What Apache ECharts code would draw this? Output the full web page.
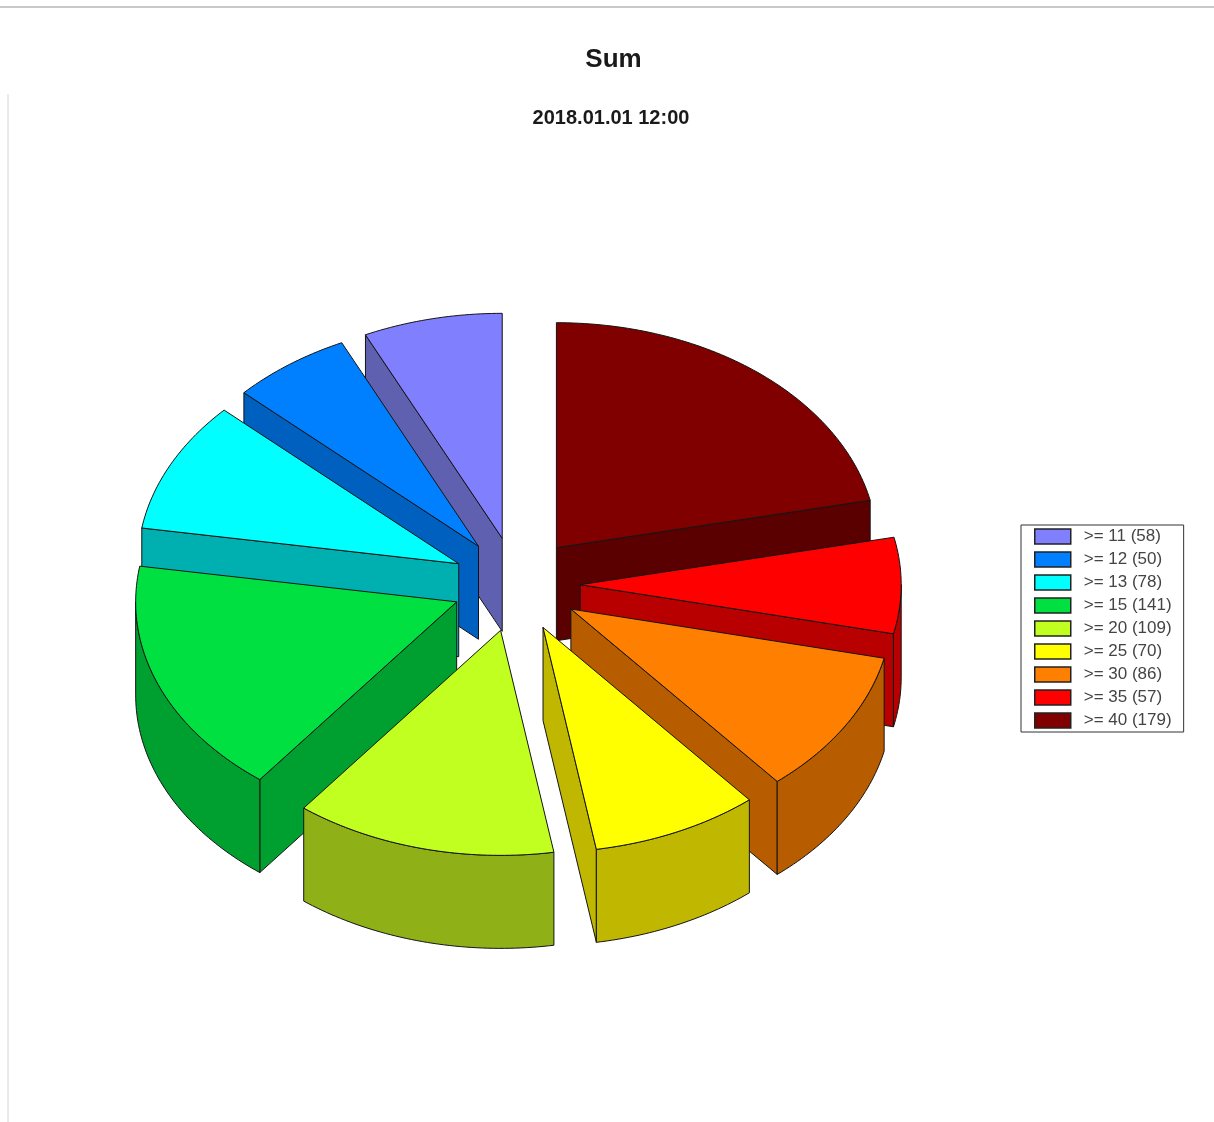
<!DOCTYPE html>
<html>
<head>
<meta charset="utf-8">
<style>html,body{margin:0;padding:0;background:#fff}#c{width:1214px;height:1122px}</style>
<script src="https://cdn.jsdelivr.net/npm/echarts@6/dist/echarts.min.js"></script>
</head>
<body>
<div id="c"></div>
<script>
const categories = ['>= 11', '>= 12', '>= 13', '>= 15', '>= 20', '>= 25', '>= 30', '>= 35', '>= 40'];
const values = [58, 50, 78, 141, 109, 70, 86, 57, 179];
const topColors = ['#8080ff', '#0080ff', '#00ffff', '#00e040', '#c0ff20', '#ffff00', '#ff8000', '#ff0000', '#800000'];
const wallColors = ['#6060b0', '#0060c0', '#00b0b0', '#00a030', '#90b018', '#c0b800', '#b85c00', '#b80000', '#5a0000'];

const CX = 516.2, CY = 584.5, RX = 321, RY = 225, DEPTH = 93, EX = 64, EY = 47.3;
const total = values.reduce((a, b) => a + b, 0);
const rad = d => d * Math.PI / 180;

// The pie runs counter-clockwise from the top in legend order, so the last class starts at 12 o'clock.
const sliceAngles = [];
let cursor = 0;
for (let i = values.length - 1; i >= 0; i--) {
  const sweep = values[i] / total * 360;
  sliceAngles[i] = [cursor, cursor + sweep];
  cursor += sweep;
}

function makeRender(i) {
  return function (params, api) {
    const a0 = sliceAngles[i][0];
    const a1 = a0 + api.value(0) / total * 360;
    const mid = rad((a0 + a1) / 2);
    const ax = CX + EX * Math.sin(mid), ay = CY - EY * Math.cos(mid);
    const pt = (a, dz) => [ax + RX * Math.sin(rad(a)), ay - RY * Math.cos(rad(a)) + (dz || 0)];
    const arc = (s, e, dz) => {
      const out = [], n = Math.max(1, Math.ceil((e - s)));
      for (let k = 0; k <= n; k++) out.push(pt(s + (e - s) * k / n, dz));
      return out;
    };
    const stroke = { stroke: '#141414', lineWidth: 1, lineJoin: 'round' };
    const wall = pts => ({ type: 'polygon', shape: { points: pts }, style: Object.assign({ fill: wallColors[i] }, stroke) });
    const children = [];
    if (Math.sin(rad(a0)) < -1e-6) {
      children.push(wall([[ax, ay], pt(a0), pt(a0, DEPTH), [ax, ay + DEPTH]]));
    }
    if (Math.sin(rad(a1)) > 1e-6) {
      children.push(wall([[ax, ay], pt(a1), pt(a1, DEPTH), [ax, ay + DEPTH]]));
    }
    const fs = Math.max(a0, 90), fe = Math.min(a1, 270);
    if (fe > fs) {
      children.push(wall(arc(fs, fe).concat(arc(fs, fe, DEPTH).reverse())));
    }
    children.push({
      type: 'polygon',
      shape: { points: [[ax, ay]].concat(arc(a0, a1)) },
      style: Object.assign({ fill: topColors[i] }, stroke)
    });
    return { type: 'group', children };
  };
}

// Paint back-to-front: slices whose middle is furthest up the page go first.
const depthRank = values.map((_, i) => i).sort((p, q) =>
  Math.cos(rad((sliceAngles[q][0] + sliceAngles[q][1]) / 2)) - Math.cos(rad((sliceAngles[p][0] + sliceAngles[p][1]) / 2)));

const labels = categories.map((c, i) => c + ' (' + values[i] + ')');
const series = values.map((v, i) => ({
  type: 'custom',
  name: labels[i],
  coordinateSystem: 'none',
  z: 2 + depthRank.indexOf(i),
  animation: false,
  silent: true,
  itemStyle: { color: topColors[i] },
  renderItem: makeRender(i),
  data: [[v]]
}));

const chart = echarts.init(document.getElementById('c'), null, { renderer: 'canvas' });
chart.setOption({
  animation: false,
  backgroundColor: '#ffffff',
  title: [
    { text: 'Sum', left: 608.5, top: 42, textAlign: 'center',
      textStyle: { fontFamily: 'Liberation Sans', fontWeight: 'bold', fontSize: 26, color: '#1a1a1a' } },
    { text: '2018.01.01 12:00', left: 606, top: 103, textAlign: 'center',
      textStyle: { fontFamily: 'Liberation Sans', fontWeight: 'bold', fontSize: 20, color: '#1a1a1a' } }
  ],
  legend: {
    orient: 'vertical',
    left: 1021,
    top: 525,
    data: labels,
    icon: 'rect',
    itemWidth: 36,
    itemHeight: 15,
    itemGap: 6,
    padding: [3, 12, 3, 13],
    backgroundColor: '#ffffff',
    borderColor: '#333333',
    borderWidth: 1,
    borderRadius: 0,
    selectedMode: false,
    itemStyle: { borderColor: '#222222', borderWidth: 1.5 },
    textStyle: { fontFamily: 'Liberation Sans', fontSize: 17, color: '#444444', padding: [0, 0, 0, 8] }
  },
  graphic: [
    { type: 'line', shape: { x1: 0, y1: 7, x2: 1214, y2: 7 }, style: { stroke: '#c8c8c8', lineWidth: 2 }, silent: true },
    { type: 'line', shape: { x1: 8, y1: 94, x2: 8, y2: 1122 }, style: { stroke: '#d4d4d4', lineWidth: 1 }, silent: true }
  ],
  series
});
</script>
</body>
</html>
